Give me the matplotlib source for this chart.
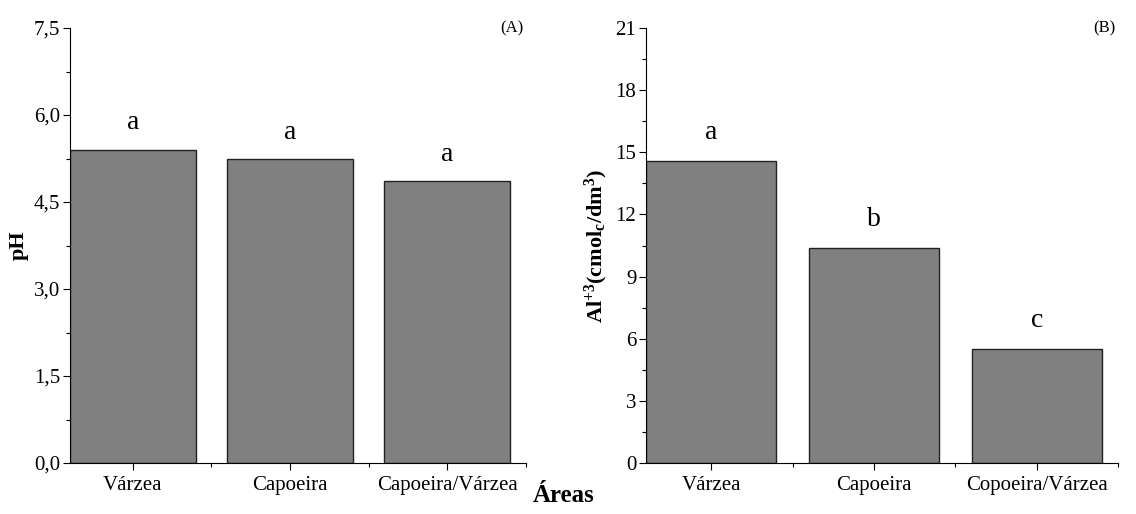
import matplotlib

matplotlib.use("Agg")

import matplotlib.pyplot as plt
from matplotlib.ticker import MultipleLocator, FuncFormatter

plt.rcParams["font.family"] = ["Liberation Serif", "DejaVu Serif"]
plt.rcParams["mathtext.fontset"] = "custom"
plt.rcParams["mathtext.rm"] = "Liberation Serif"
plt.rcParams["mathtext.bf"] = "Liberation Serif:bold"
plt.rcParams["mathtext.default"] = "bf"

# data
areas_ph = ["Várzea", "Capoeira", "Capoeira/Várzea"]
ph_values = [5.40, 5.24, 4.86]
ph_letters = ["a", "a", "a"]

areas_al = ["Várzea", "Capoeira", "Copoeira/Várzea"]
al_values = [14.6, 10.4, 5.52]
al_letters = ["a", "b", "c"]

BAR_COLOR = "#808080"

fig = plt.figure(figsize=(11.36, 5.14), dpi=100)
ax1 = fig.add_axes([0.0616, 0.0992, 0.4014, 0.8463])
ax2 = fig.add_axes([0.5687, 0.0992, 0.4155, 0.8463])


def style_panel(ax, cats, vals, letters, ymax, major, minor, fmt, offset, tag):
    x = range(len(cats))
    ax.bar(x, vals, width=0.8, color=BAR_COLOR, edgecolor="#222222", linewidth=1.0)
    for xi, v, lt in zip(x, vals, letters):
        ax.text(xi, v + offset, lt, ha="center", va="bottom", fontsize=20)
    ax.set_xlim(-0.4, 2.5)
    ax.set_ylim(0, ymax)
    ax.set_xticks(list(x))
    ax.set_xticklabels(cats, fontsize=15)
    ax.xaxis.set_minor_locator(MultipleLocator(1.0, offset=0.5))
    ax.yaxis.set_major_locator(MultipleLocator(major))
    ax.yaxis.set_minor_locator(MultipleLocator(minor))
    ax.yaxis.set_major_formatter(FuncFormatter(fmt))
    ax.tick_params(axis="y", labelsize=15, pad=2)
    ax.tick_params(axis="x", pad=4)
    ax.tick_params(which="major", direction="out", length=5, width=0.8)
    ax.tick_params(which="minor", direction="out", length=3, width=0.8)
    ax.spines["top"].set_visible(False)
    ax.spines["right"].set_visible(False)
    for sp in ("left", "bottom"):
        ax.spines[sp].set_linewidth(0.8)
    ax.text(0.995, 1.0, tag, transform=ax.transAxes, ha="right", va="center", fontsize=12)


style_panel(ax1, areas_ph, ph_values, ph_letters, 7.5, 1.5, 0.75,
            lambda v, p: f"{v:.1f}".replace(".", ","), 0.25, "(A)")
style_panel(ax2, areas_al, al_values, al_letters, 21, 3, 1.5,
            lambda v, p: f"{v:.0f}", 0.75, "(B)")

ax1.set_ylabel("pH", fontsize=16, fontweight="bold", labelpad=4)
ax2.set_ylabel(r"Al$^{+3}$(cmol$_c$/dm$^3$)", fontsize=16, fontweight="bold", labelpad=4)

fig.text(0.496, 0.036, "Áreas", ha="center", va="center", fontsize=18, fontweight="bold")

fig.savefig("out.png", dpi=100)
